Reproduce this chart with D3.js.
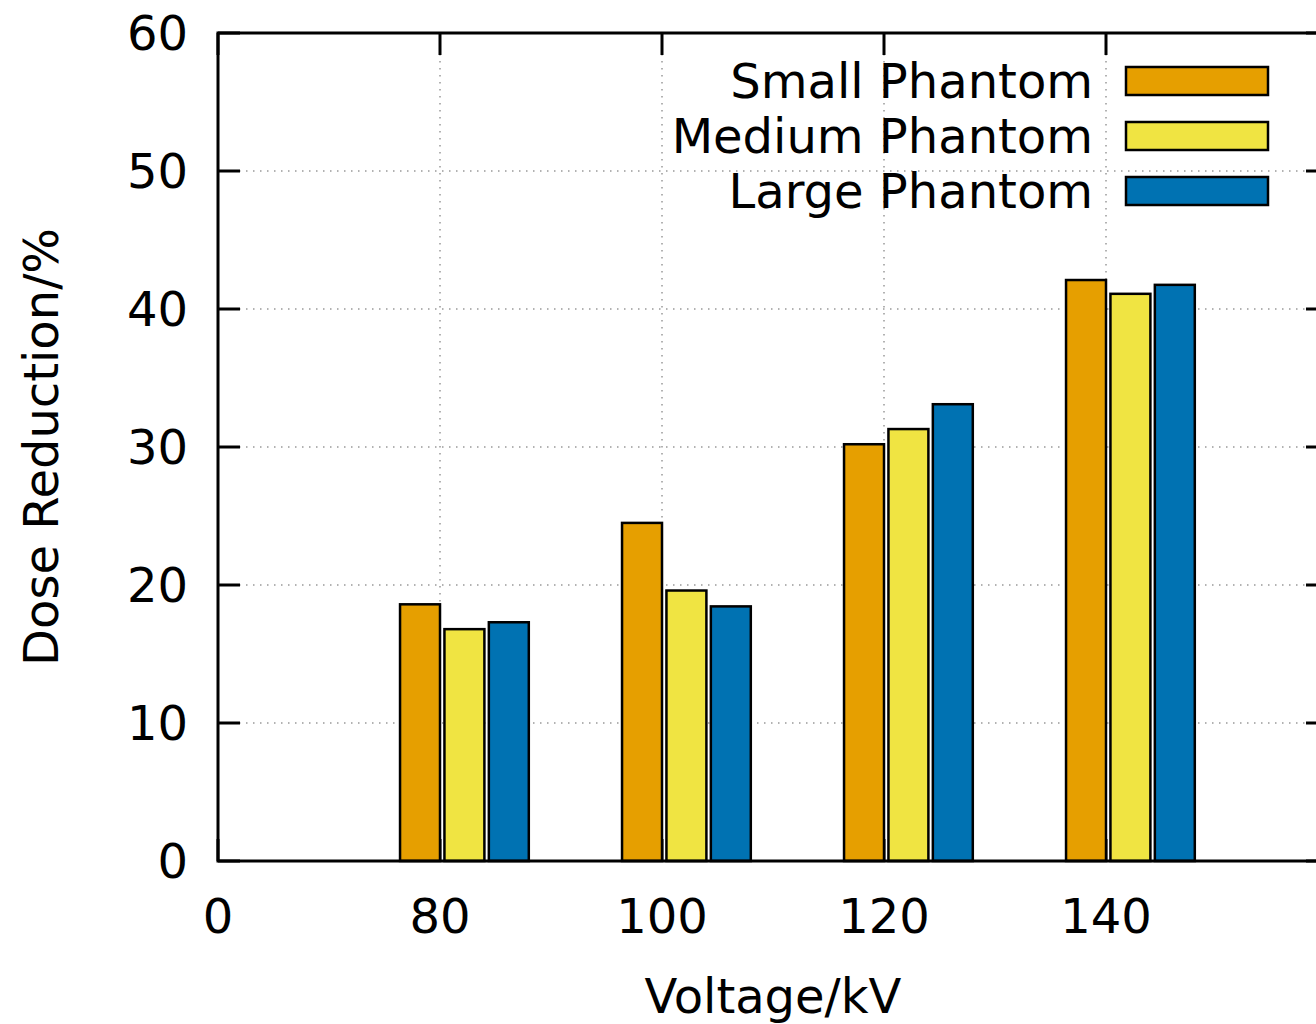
<!DOCTYPE html>
<html>
<head>
<meta charset="utf-8">
<script src="https://cdn.jsdelivr.net/npm/d3@7"></script>
<style>
  body { margin: 0; background: #fff; }
  text { font-family: "DejaVu Sans", sans-serif; fill: #000; }
</style>
</head>
<body>
<div id="chart"></div>
<script>
// data
var voltages = ["80", "100", "120", "140"];
var seriesNames = ["Small Phantom", "Medium Phantom", "Large Phantom"];
var smallVals = [18.6, 24.5, 30.2, 42.1];
var mediumVals = [16.8, 19.6, 31.3, 41.1];
var largeVals = [17.3, 18.45, 33.1, 41.75];
var xTickLabels = ["0", "80", "100", "120", "140"];
var yTicks = [0, 10, 20, 30, 40, 50, 60];
var colors = ["#e69f00", "#f0e442", "#0072b2"];

var series = [smallVals, mediumVals, largeVals];

var W = 1316, H = 1024;
var margin = {top: 33, left: 218, bottom: 163, right: -12};
var width = W - margin.left - margin.right,
    height = H - margin.top - margin.bottom;
var fs = "48px";

var svg = d3.select("#chart").append("svg")
    .attr("width", W).attr("height", H)
  .append("g")
    .attr("transform", "translate(" + margin.left + "," + margin.top + ")");

// x in slot units: 0 .. 5
var x = d3.scaleLinear().domain([0, 5]).range([0, width]);
var y = d3.scaleLinear().domain([0, 60]).range([height, 0]);

var barW = 0.18, barStep = 0.2;
var tickLen = 22;

// grid
svg.append("g").selectAll("line.gy")
  .data(yTicks.slice(1, -1))
  .enter().append("line")
    .attr("x1", 0).attr("x2", width)
    .attr("y1", function(d) { return y(d); })
    .attr("y2", function(d) { return y(d); })
    .attr("stroke", "#999").attr("stroke-width", 1.5)
    .attr("stroke-dasharray", "1.5,5.5");
svg.append("g").selectAll("line.gx")
  .data(d3.range(1, 5))
  .enter().append("line")
    .attr("x1", function(d) { return x(d); })
    .attr("x2", function(d) { return x(d); })
    .attr("y1", 0).attr("y2", height)
    .attr("stroke", "#999").attr("stroke-width", 1.5)
    .attr("stroke-dasharray", "1.5,5.5");

// tick marks (mirrored)
var ticks = svg.append("g").attr("stroke", "#000").attr("stroke-width", 3);
yTicks.forEach(function(t) {
  ticks.append("line").attr("x1", 0).attr("x2", tickLen).attr("y1", y(t)).attr("y2", y(t));
  ticks.append("line").attr("x1", width - tickLen).attr("x2", width).attr("y1", y(t)).attr("y2", y(t));
});
d3.range(0, 5).forEach(function(i) {
  ticks.append("line").attr("x1", x(i)).attr("x2", x(i)).attr("y1", height).attr("y2", height - tickLen);
  ticks.append("line").attr("x1", x(i)).attr("x2", x(i)).attr("y1", 0).attr("y2", tickLen);
});

// bars
series.forEach(function(vals, k) {
  svg.append("g").selectAll("rect")
    .data(vals)
    .enter().append("rect")
      .attr("x", function(d, i) { return x(i + 1 - barW + k * barStep); })
      .attr("width", x(barW) - x(0))
      .attr("y", function(d) { return y(d); })
      .attr("height", function(d) { return y(0) - y(d); })
      .attr("fill", colors[k])
      .attr("stroke", "#000").attr("stroke-width", 2.5);
});

// border
svg.append("rect")
  .attr("x", 0).attr("y", 0).attr("width", width).attr("height", height)
  .attr("fill", "none").attr("stroke", "#000").attr("stroke-width", 3);

// tick labels
svg.append("g").selectAll("text")
  .data(yTicks)
  .enter().append("text")
    .attr("x", -30).attr("y", function(d) { return y(d); })
    .attr("dy", "0.36em")
    .attr("text-anchor", "end")
    .style("font-size", fs)
    .text(function(d) { return d; });

svg.append("g").selectAll("text")
  .data(xTickLabels)
  .enter().append("text")
    .attr("x", function(d, i) { return x(i); })
    .attr("y", height + 55)
    .attr("dy", "0.36em")
    .attr("text-anchor", "middle")
    .style("font-size", fs)
    .text(function(d) { return d; });

// axis titles
svg.append("text")
  .attr("x", width / 2).attr("y", height + 152)
  .attr("text-anchor", "middle")
  .style("font-size", fs)
  .text("Voltage/kV");

svg.append("text")
  .attr("transform", "translate(" + (-160) + "," + (height / 2) + ") rotate(-90)")
  .attr("text-anchor", "middle")
  .style("font-size", fs)
  .text("Dose Reduction/%");

// legend
var legend = svg.append("g");
seriesNames.forEach(function(name, k) {
  var cy = 48 + k * 55;
  legend.append("text")
    .attr("x", 1093 - margin.left).attr("y", cy)
    .attr("dy", "0.36em")
    .attr("text-anchor", "end")
    .style("font-size", fs)
    .text(name);
  legend.append("rect")
    .attr("x", 1126 - margin.left).attr("y", cy - 14)
    .attr("width", 142).attr("height", 28)
    .attr("fill", colors[k])
    .attr("stroke", "#000").attr("stroke-width", 2.5);
});
</script>
</body>
</html>
